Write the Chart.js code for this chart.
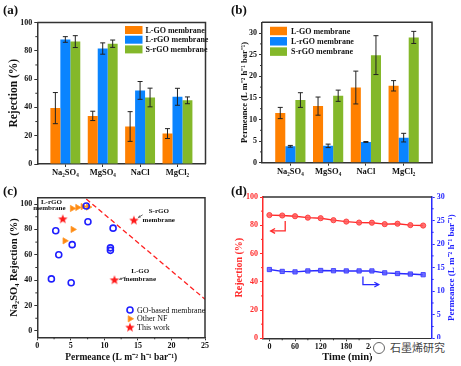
<!DOCTYPE html>
<html>
<head>
<meta charset="utf-8">
<script src="https://cdn.jsdelivr.net/npm/chart.js@4.4.0/dist/chart.umd.min.js"></script>
<style>
  html, body { margin: 0; padding: 0; background: #fff; }
  #wrap { position: relative; width: 461px; height: 366px; overflow: hidden; }
  .panel { position: absolute; }
  .tag { position: absolute; font: bold 13px "Liberation Serif", serif; line-height: 13px; color: #111; }
  #wm { position: absolute; left: 371px; top: 339px; height: 17px; padding: 0 2px; background: #fff;
        font: 11px "Noto Sans CJK SC", sans-serif; line-height: 17px; color: #444; white-space: nowrap; }
  #wm i { display: inline-block; width: 10px; height: 10px; border: 1.3px solid #666; border-radius: 50%;
          vertical-align: -2px; margin-right: 5px; }
</style>
</head>
<body>
<div id="wrap">
  <div class="panel" style="left:0;top:0;width:230px;height:183px"><canvas id="chartA"></canvas></div>
  <div class="panel" style="left:230px;top:0;width:231px;height:183px"><canvas id="chartB"></canvas></div>
  <div class="panel" style="left:0;top:183px;width:230px;height:183px"><canvas id="chartC"></canvas></div>
  <div class="panel" style="left:230px;top:183px;width:231px;height:183px"><canvas id="chartD"></canvas></div>
  <div class="tag" style="left:3px;top:3px">(a)</div>
  <div class="tag" style="left:231px;top:3px">(b)</div>
  <div class="tag" style="left:3px;top:184px">(c)</div>
  <div class="tag" style="left:231px;top:184px">(d)</div>
  <div id="wm"><i></i>石墨烯研究</div>
</div>
<script>
// ---- data ----
const salts = ['Na₂SO₄', 'MgSO₄', 'NaCl', 'MgCl₂'];
const membranes = ['L-GO membrane', 'L-rGO membrane', 'S-rGO membrane'];

// (a) rejection (%)
const rejLGO = [39.5, 34, 26.5, 21.5];
const rejLGOErr = [11, 3.3, 10.5, 3.5];
const rejLrGO = [88, 81.6, 52, 47.5];
const rejLrGOErr = [2, 4, 6.3, 6];
const rejSrGO = [86.5, 85, 47, 45];
const rejSrGOErr = [4.2, 2.6, 6.6, 2.4];

// (b) permeance (L m-2 h-1 bar-1)
const permLGO = [11.5, 13.1, 17.4, 17.8];
const permLGOErr = [1.3, 2.1, 3.8, 1.2];
const permLrGO = [3.8, 3.9, 4.8, 5.8];
const permLrGOErr = [0.2, 0.4, 0.1, 1.0];
const permSrGO = [14.5, 15.5, 24.9, 29];
const permSrGOErr = [1.7, 1.3, 4.5, 1.4];

// (c) Na2SO4 rejection vs permeance
const goBasedPerm = [2.1, 2.75, 3.2, 5.05, 5.2, 7.3, 7.55, 10.9, 10.9, 11.3];
const goBasedRej = [41, 79, 60, 38, 68, 98.5, 86, 63.5, 65.5, 81];
const otherNfPerm = [4.1, 5.3, 5.2, 6.0, 6.8, 7.6];
const otherNfRej = [71, 80, 96.5, 97.3, 98, 97.6];
const thisWorkPerm = [3.8, 11.5, 14.4];
const thisWorkRej = [88, 40, 87];
const boundPerm = [7.3, 25];
const boundRej = [104, 25];

// (d) long-term test
const timeMin = [0, 30, 60, 90, 120, 150, 180, 210, 240, 270, 300, 330, 360];
const rejTime = [87.2, 86.9, 86.4, 85.4, 85.0, 83.6, 82.6, 81.9, 81.8, 80.8, 81.1, 80.1, 79.8];
const permTime = [14.6, 14.2, 14.1, 14.3, 14.4, 14.35, 14.3, 14.3, 14.3, 13.9, 13.75, 13.65, 13.5];

// tick labels
const rejTicks = [0, 20, 40, 60, 80, 100];
const permTicksB = [0, 5, 10, 15, 20, 25, 30];
const permTicksC = [0, 5, 10, 15, 20, 25];
const permTicksD = [0, 5, 10, 15, 20, 25, 30];
const timeTicks = [0, 60, 120, 180, 240, 300, 360];

const SERIF = '"Liberation Serif", "Times New Roman", serif';
const ORANGE = '#ff8000', BLUE = '#0a84ff', GREEN = '#84b82a';
const AX = '#333';

Chart.defaults.font.family = SERIF;
Chart.defaults.color = '#111';

const permTitle = 'Permeance (L m⁻² h⁻¹ bar⁻¹)';
const mids = arr => arr.slice(1).map((v, i) => (v + arr[i]) / 2);
const setTicks = arr => s => { s.ticks = arr.map(v => ({ value: v })); };

// ---- plugins ----
const framePlugin = {
  id: 'frame',
  afterDraw(chart, args, o) {
    const { ctx, chartArea: a } = chart;
    ctx.save();
    ctx.strokeStyle = o.color || AX;
    ctx.lineWidth = 1.5;
    ctx.beginPath();
    ctx.moveTo(a.left, a.top); ctx.lineTo(a.right, a.top);
    if (!o.topOnly) ctx.lineTo(a.right, a.bottom);
    ctx.stroke();
    ctx.restore();
  }
};

const minorTicks = {
  id: 'minorTicks',
  afterDraw(chart, args, o) {
    const ctx = chart.ctx;
    ctx.save();
    ctx.lineWidth = 1;
    (o.axes || []).forEach(m => {
      const s = chart.scales[m.id];
      ctx.strokeStyle = m.color || AX;
      m.values.forEach(v => {
        const p = s.getPixelForValue(v);
        ctx.beginPath();
        if (s.isHorizontal()) { ctx.moveTo(p, s.top); ctx.lineTo(p, s.top + 2); }
        else if (s.position === 'left') { ctx.moveTo(s.right, p); ctx.lineTo(s.right - 2, p); }
        else { ctx.moveTo(s.left, p); ctx.lineTo(s.left + 2, p); }
        ctx.stroke();
      });
    });
    ctx.restore();
  }
};

const errorBars = {
  id: 'errorBars',
  afterDatasetsDraw(chart) {
    const { ctx } = chart;
    const y = chart.scales.y;
    ctx.save();
    ctx.strokeStyle = '#222';
    ctx.lineWidth = 1;
    chart.data.datasets.forEach((ds, di) => {
      chart.getDatasetMeta(di).data.forEach((bar, i) => {
        const v = ds.data[i].y, e = ds.errors[i];
        const t = y.getPixelForValue(v + e), b = y.getPixelForValue(v - e);
        ctx.beginPath();
        ctx.moveTo(bar.x, t); ctx.lineTo(bar.x, b);
        ctx.moveTo(bar.x - 2.5, t); ctx.lineTo(bar.x + 2.5, t);
        ctx.moveTo(bar.x - 2.5, b); ctx.lineTo(bar.x + 2.5, b);
        ctx.stroke();
      });
    });
    ctx.restore();
  }
};

const boxLegend = {
  id: 'boxLegend',
  afterDraw(chart, args, o) {
    const ctx = chart.ctx;
    ctx.save();
    ctx.font = `bold ${o.size}px ${SERIF}`;
    ctx.textBaseline = 'middle';
    chart.data.datasets.forEach((ds, i) => {
      const y = o.y + i * o.gap;
      ctx.fillStyle = ds.backgroundColor;
      ctx.fillRect(o.x, y - o.bh / 2, o.bw, o.bh);
      ctx.fillStyle = '#111';
      ctx.fillText(ds.label, o.x + o.bw + o.tx, y + 0.5);
    });
    ctx.restore();
  }
};

// star marker
function makeStar(r, color) {
  const c = document.createElement('canvas');
  const s = Math.ceil(r * 2 + 2);
  c.width = s; c.height = s;
  const g = c.getContext('2d');
  g.translate(s / 2, s / 2);
  g.beginPath();
  for (let k = 0; k < 10; k++) {
    const rad = k % 2 ? r * 0.42 : r;
    const a = -Math.PI / 2 + k * Math.PI / 5;
    g.lineTo(rad * Math.cos(a), rad * Math.sin(a));
  }
  g.closePath();
  g.fillStyle = color;
  g.fill();
  return c;
}
const starImg = makeStar(5, '#ff1a1a');

function drawArrow(ctx, pts, color, head, filled) {
  ctx.strokeStyle = color; ctx.fillStyle = color;
  ctx.beginPath();
  pts.forEach((p, i) => i ? ctx.lineTo(p[0], p[1]) : ctx.moveTo(p[0], p[1]));
  ctx.stroke();
  const [x1, y1] = pts[pts.length - 2], [x2, y2] = pts[pts.length - 1];
  const a = Math.atan2(y2 - y1, x2 - x1);
  ctx.beginPath();
  ctx.moveTo(x2 - head * Math.cos(a - 0.5), y2 - head * Math.sin(a - 0.5));
  ctx.lineTo(x2, y2);
  ctx.lineTo(x2 - head * Math.cos(a + 0.5), y2 - head * Math.sin(a + 0.5));
  if (filled) { ctx.closePath(); ctx.fill(); } else ctx.stroke();
}

const notesC = {
  id: 'notesC',
  afterDraw(chart, args, o) {
    const { ctx, scales: { x, y } } = chart;
    ctx.save();
    ctx.font = `bold 7px ${SERIF}`;
    ctx.fillStyle = '#111';
    ctx.textBaseline = 'middle';
    o.texts.forEach(t => {
      ctx.textAlign = t.align;
      ctx.fillText(t.text, x.getPixelForValue(t.x), y.getPixelForValue(t.y));
    });
    ctx.lineWidth = 1;
    o.arrows.forEach(ar => drawArrow(ctx, ar.map(p => [x.getPixelForValue(p[0]), y.getPixelForValue(p[1])]), '#666', 3, true));
    // legend
    ctx.font = `8px ${SERIF}`;
    ctx.textAlign = 'left';
    const lg = o.legend;
    chart.data.datasets.forEach((ds, i) => {
      if (!ds.inLegend) return;
      const yy = lg.y + (ds.inLegend - 1) * lg.gap;
      ctx.fillStyle = ds.pointBackgroundColor;
      ctx.strokeStyle = ds.pointBorderColor;
      ctx.lineWidth = ds.pointBorderWidth;
      Chart.helpers.drawPoint(ctx, { pointStyle: ds.pointStyle, rotation: ds.pointRotation || 0, radius: ds.pointRadius, borderWidth: ds.pointBorderWidth }, lg.x, yy);
      ctx.fillStyle = '#111';
      ctx.fillText(ds.label, lg.x + 7, yy + 0.5);
    });
    ctx.restore();
  }
};

const notesD = {
  id: 'notesD',
  afterDraw(chart, args, o) {
    const { ctx, scales, chartArea: a } = chart;
    ctx.save();
    ctx.lineWidth = 1.3;
    o.arrows.forEach(ar => {
      const ys = scales[ar.axis];
      drawArrow(ctx, ar.pts.map(p => [scales.x.getPixelForValue(p[0]), ys.getPixelForValue(p[1])]), ar.color, 5, false);
    });
    // right axis title, read bottom to top
    ctx.translate(o.titleX, (a.top + a.bottom) / 2);
    ctx.rotate(-Math.PI / 2);
    ctx.font = `bold 9px ${SERIF}`;
    ctx.fillStyle = '#2020ff';
    ctx.textAlign = 'center';
    ctx.textBaseline = 'middle';
    ctx.fillText(permTitle, 0, 0);
    ctx.restore();
  }
};

// ---- helpers for bar panels ----
function barSet(label, vals, errs, color) {
  return { label, data: vals.map((v, i) => ({ x: i + 1, y: v })), errors: errs, backgroundColor: color,
           categoryPercentage: 0.8, barPercentage: 1.0 };
}
function axisGrid(color) {
  return { display: true, drawOnChartArea: false, drawTicks: true, tickLength: 3, tickColor: color, tickWidth: 1, offset: false };
}

function barChart(id, sets, ymax, yTicks, title, titleSize, layout, legend) {
  return new Chart(document.getElementById(id), {
    type: 'bar',
    data: { datasets: sets },
    options: {
      responsive: true, maintainAspectRatio: false, animation: false,
      layout: { padding: { top: layout.top, right: layout.right, left: 0, bottom: 0 } },
      plugins: {
        legend: { display: false }, tooltip: { enabled: false },
        boxLegend: legend,
        minorTicks: { axes: [{ id: 'y', values: mids(yTicks) }] }
      },
      scales: {
        x: {
          type: 'linear', min: 0.25, max: 4.75, offset: false, bounds: 'data',
          afterBuildTicks: setTicks(salts.map((_, i) => i + 1)),
          ticks: { callback: v => salts[v - 1] || '', font: { size: 8.5, weight: 'bold' }, padding: 1, maxRotation: 0, autoSkip: false, color: '#111' },
          grid: axisGrid(AX), border: { color: AX, width: 1.5 },
          afterFit: s => { s.height = layout.xh; }
        },
        y: {
          min: 0, max: ymax,
          afterBuildTicks: setTicks(yTicks),
          ticks: { font: { size: 8, weight: 'bold' }, padding: 2, color: '#111' },
          grid: axisGrid(AX), border: { color: AX, width: 1.5 },
          title: { display: true, text: title, font: { size: titleSize, weight: 'bold' }, padding: { top: layout.tp, bottom: 0 }, color: '#111' },
          afterFit: s => { s.width = layout.yw; }
        }
      }
    },
    plugins: [errorBars, framePlugin, minorTicks, boxLegend]
  });
}

// ---- (a) ----
barChart('chartA', [
  barSet(membranes[0], rejLGO, rejLGOErr, ORANGE),
  barSet(membranes[1], rejLrGO, rejLrGOErr, BLUE),
  barSet(membranes[2], rejSrGO, rejSrGOErr, GREEN)
], 100, rejTicks, 'Rejection (%)', 11.5,
  { top: 22.5, right: 24.5, xh: 19, yw: 37.3, tp: 7 },
  { x: 125, y: 30, gap: 9.7, bw: 17.5, bh: 8, tx: 3, size: 8 });

// ---- (b) ----
barChart('chartB', [
  barSet(membranes[0], permLGO, permLGOErr, ORANGE),
  barSet(membranes[1], permLrGO, permLrGOErr, BLUE),
  barSet(membranes[2], permSrGO, permSrGOErr, GREEN)
], 32.5, permTicksB, permTitle, 8.5,
  { top: 22.3, right: 29, xh: 20.3, yw: 32, tp: 10 },
  { x: 40, y: 31, gap: 10.3, bw: 17, bh: 8.5, tx: 4, size: 8 });

// ---- (c) ----
new Chart(document.getElementById('chartC'), {
  type: 'scatter',
  data: {
    datasets: [
      { label: 'Upper bound', type: 'line', data: boundPerm.map((x, i) => ({ x, y: boundRej[i] })),
        borderColor: '#ff2020', borderWidth: 1.3, borderDash: [5, 3], pointRadius: 0, fill: false },
      { label: 'GO-based membrane', inLegend: 1, data: goBasedPerm.map((x, i) => ({ x, y: goBasedRej[i] })),
        pointStyle: 'circle', pointRadius: 3, pointBorderWidth: 1.6, pointBorderColor: '#1f1fff', pointBackgroundColor: 'rgba(0,0,0,0)' },
      { label: 'Other NF', inLegend: 2, data: otherNfPerm.map((x, i) => ({ x, y: otherNfRej[i] })),
        pointStyle: 'triangle', pointRotation: 90, pointRadius: 3.6, pointBorderWidth: 0.8, pointBorderColor: '#ff9a30', pointBackgroundColor: '#ff8a10' },
      { label: 'This work', inLegend: 3, data: thisWorkPerm.map((x, i) => ({ x, y: thisWorkRej[i] })),
        pointStyle: starImg, pointRadius: 5, pointBorderWidth: 0, pointBorderColor: '#ff1a1a', pointBackgroundColor: '#ff1a1a' }
    ]
  },
  options: {
    responsive: true, maintainAspectRatio: false, animation: false,
    layout: { padding: { top: 14.7, right: 25, left: 0, bottom: 0 } },
    plugins: {
      legend: { display: false }, tooltip: { enabled: false },
      minorTicks: { axes: [{ id: 'x', values: mids(permTicksC) }, { id: 'y', values: mids(rejTicks) }] },
      notesC: {
        texts: [
          { text: 'L-rGO', x: 2.1, y: 101.5, align: 'center' },
          { text: 'membrane', x: 1.8, y: 96.5, align: 'center' },
          { text: 'S-rGO', x: 16.6, y: 94, align: 'left' },
          { text: 'membrane', x: 15.7, y: 87.5, align: 'left' },
          { text: 'L-GO', x: 14.0, y: 47, align: 'left' },
          { text: 'membrane', x: 12.9, y: 40.5, align: 'left' }
        ],
        arrows: [
          [[15.7, 91.5], [15.0, 89.2]],
          [[13.2, 42.5], [12.2, 40.6]]
        ],
        legend: { x: 130, y: 127, gap: 8.8 }
      }
    },
    scales: {
      x: {
        type: 'linear', min: 0, max: 25,
        afterBuildTicks: setTicks(permTicksC),
        ticks: { font: { size: 8, weight: 'bold' }, padding: 1, color: '#111' },
        grid: axisGrid(AX), border: { color: AX, width: 1.5 },
        title: { display: true, text: permTitle, font: { size: 9.5, weight: 'bold' }, padding: { top: 0, bottom: 3 }, color: '#111' },
        afterFit: s => { s.height = 28.7; }
      },
      y: {
        min: -5, max: 105,
        afterBuildTicks: setTicks(rejTicks),
        ticks: { font: { size: 8, weight: 'bold' }, padding: 2, color: '#111' },
        grid: axisGrid(AX), border: { color: AX, width: 1.5 },
        title: { display: true, text: 'Na₂SO₄ Rejection (%)', font: { size: 10.5, weight: 'bold' }, padding: { top: 8, bottom: 0 }, color: '#111' },
        afterFit: s => { s.width = 37.3; }
      }
    }
  },
  plugins: [framePlugin, minorTicks, notesC]
});

// ---- (d) ----
const RED = '#ff2a2a', DBLUE = '#2a2aff';
new Chart(document.getElementById('chartD'), {
  type: 'line',
  data: {
    datasets: [
      { label: 'Rejection', yAxisID: 'y', data: timeMin.map((x, i) => ({ x, y: rejTime[i] })),
        borderColor: RED, borderWidth: 1.4, pointStyle: 'circle', pointRadius: 2.6,
        pointBackgroundColor: 'rgba(255,90,90,0.85)', pointBorderColor: 'rgba(255,60,60,0.9)', pointBorderWidth: 1 },
      { label: 'Permeance', yAxisID: 'y2', data: timeMin.map((x, i) => ({ x, y: permTime[i] })),
        borderColor: DBLUE, borderWidth: 1.4, pointStyle: 'rect', pointRadius: 3,
        pointBackgroundColor: 'rgba(90,90,255,0.85)', pointBorderColor: 'rgba(60,60,255,0.9)', pointBorderWidth: 1 }
    ]
  },
  options: {
    responsive: true, maintainAspectRatio: false, animation: false,
    layout: { padding: { top: 14, right: 0, left: 0, bottom: 0 } },
    plugins: {
      legend: { display: false }, tooltip: { enabled: false },
      frame: { topOnly: true },
      minorTicks: { axes: [
        { id: 'x', values: mids(timeTicks) },
        { id: 'y', values: mids(rejTicks), color: RED },
        { id: 'y2', values: mids(permTicksD), color: DBLUE }
      ] },
      notesD: {
        titleX: 222,
        arrows: [
          { axis: 'y', color: RED, pts: [[37, 83], [37, 76], [3, 76]] },
          { axis: 'y2', color: DBLUE, pts: [[219, 13.1], [219, 11.4], [256, 11.4]] }
        ]
      }
    },
    scales: {
      x: {
        type: 'linear', min: -15, max: 380,
        afterBuildTicks: setTicks(timeTicks),
        ticks: { font: { size: 8, weight: 'bold' }, padding: 1, color: '#111' },
        grid: axisGrid(AX), border: { color: AX, width: 1.5 },
        title: { display: true, text: 'Time (min)', font: { size: 10.5, weight: 'bold' }, padding: { top: 0, bottom: 2 }, color: '#111' },
        afterFit: s => { s.height = 27.7; }
      },
      y: {
        position: 'left', min: 0, max: 100,
        afterBuildTicks: setTicks(rejTicks),
        ticks: { font: { size: 8, weight: 'bold' }, padding: 2, color: RED },
        grid: axisGrid(RED), border: { color: RED, width: 1.5 },
        title: { display: true, text: 'Rejection (%)', font: { size: 10, weight: 'bold' }, padding: { top: 3, bottom: 0 }, color: RED },
        afterFit: s => { s.width = 33; }
      },
      y2: {
        position: 'right', min: 0, max: 30,
        afterBuildTicks: setTicks(permTicksD),
        ticks: { font: { size: 8, weight: 'bold' }, padding: 2, color: DBLUE },
        grid: axisGrid(DBLUE), border: { color: DBLUE, width: 1.5 },
        afterFit: s => { s.width = 29.3; }
      }
    }
  },
  plugins: [framePlugin, minorTicks, notesD]
});
</script>
</body>
</html>
